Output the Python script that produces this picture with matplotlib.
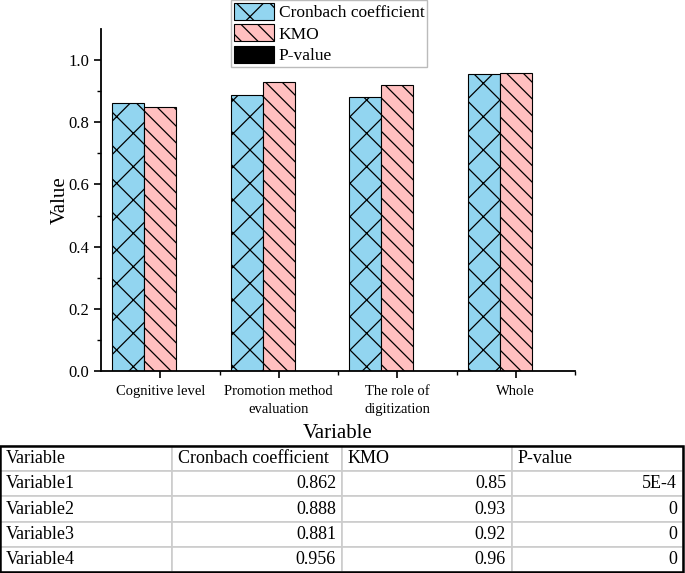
import numpy as np
import matplotlib
matplotlib.use("Agg")
import matplotlib.pyplot as plt
from matplotlib.table import Table
from matplotlib.patches import Rectangle

plt.rcParams['font.family'] = ['Liberation Serif', 'DejaVu Serif']
plt.rcParams['hatch.linewidth'] = 0.9

# data
categories = ["Cognitive level", "Promotion method\nevaluation", "The role of\ndigitization", "Whole"]
cronbach = [0.862, 0.888, 0.881, 0.956]
kmo = [0.85, 0.93, 0.92, 0.96]
p_value = [0.0005, 0, 0, 0]

row_names = ["Variable1", "Variable2", "Variable3", "Variable4"]
col_names = ["Variable", "Cronbach coefficient", "KMO", "P-value"]
cronbach_txt = ["0.862", "0.888", "0.881", "0.956"]
kmo_txt = ["0.85", "0.93", "0.92", "0.96"]
p_txt = ["5E-4", "0", "0", "0"]

W, H = 685, 573
fig = plt.figure(figsize=(W / 100, H / 100), dpi=100)

# chart area
ax = fig.add_axes([101 / W, 1 - 371 / H, (575 - 101) / W, (371 - 29) / H])
x = np.arange(1, len(categories) + 1)
bw = 0.27
b1 = ax.bar(x - bw, cronbach, bw, color="#92d5f0", edgecolor="black", linewidth=0.8,
            hatch="x", label="Cronbach coefficient")
b2 = ax.bar(x, kmo, bw, color="#ffc0c0", edgecolor="black", linewidth=0.8,
            hatch="\\\\", label="KMO")
b3 = ax.bar(x + bw, p_value, bw, color="black", edgecolor="black", linewidth=0.8,
            label="P-value")

ax.set_xlim(0.5, 4.5)
ax.set_ylim(0, 1.1)
ax.set_xticks(x)
ax.set_xticklabels(categories, fontsize=10.5, linespacing=1.5)
ax.set_xticks([1.5, 2.5, 3.5, 4.5], minor=True)
ax.set_yticks(np.arange(0, 1.01, 0.2))
ax.set_yticklabels([f"{v:.1f}" for v in np.arange(0, 1.01, 0.2)], fontsize=12)
ax.set_yticks(np.arange(0.1, 1.1, 0.2), minor=True)
ax.tick_params(axis="both", which="major", direction="out", length=5, width=1.2)
ax.tick_params(axis="x", which="major", pad=5)
ax.tick_params(axis="both", which="minor", direction="out", length=3, width=1.0)
ax.spines["top"].set_visible(False)
ax.spines["right"].set_visible(False)
ax.spines["left"].set_linewidth(1.3)
ax.spines["bottom"].set_linewidth(1.3)
ax.set_ylabel("Value", fontsize=15, labelpad=-1)
ax.set_xlabel("Variable", fontsize=15, labelpad=6)

leg = fig.legend(handles=[b1, b2, b3], loc="upper left", bbox_to_anchor=(231 / W, 1.0),
                 fontsize=12.5, frameon=True, fancybox=False, edgecolor="#aaaaaa",
                 handlelength=2.3, handleheight=1.15, labelspacing=0.18,
                 handletextpad=0.3, borderpad=0.15, borderaxespad=0)
leg.get_frame().set_linewidth(1.0)

# table below
tax = fig.add_axes([0, 1 - 572 / H, 683 / W, (572 - 446) / H])
tax.axis("off")
tbl = Table(tax, bbox=[0, 0, 1, 1])
col_w = [172 / 683, 170 / 683, 170 / 683, 171 / 683]
rows = [col_names] + [[row_names[i], cronbach_txt[i], kmo_txt[i], p_txt[i]] for i in range(4)]
nrows = len(rows)
for r, row in enumerate(rows):
    for c, txt in enumerate(row):
        loc = "left" if (r == 0 or c == 0) else "right"
        cell = tbl.add_cell(r, c, col_w[c], 1 / nrows, text=txt, loc=loc,
                            edgecolor="#cccccc", facecolor="white")
        cell.PAD = 0.035
        cell.set_linewidth(1.2)
        cell.get_text().set_fontsize(13)
tbl.auto_set_font_size(False)
tax.add_table(tbl)
tax.add_patch(Rectangle((0, 0), 1, 1, transform=tax.transAxes, fill=False,
                        edgecolor="black", linewidth=1.8, clip_on=False, zorder=5))

fig.savefig("out.png", dpi=100)
